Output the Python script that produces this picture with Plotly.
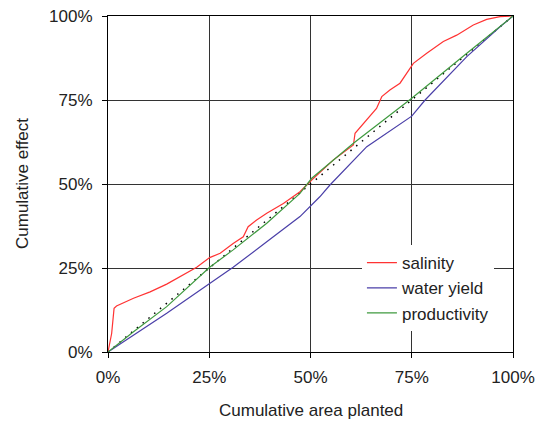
import plotly.graph_objects as go

# cumulative area planted (%) and cumulative effect (%)
sal_x = [0, 0.9, 1.5, 2.1, 6.3, 10.4, 14.5, 18.6, 21.9, 25.1, 27.7, 30.9, 33.4, 34.6,
         36.7, 39.2, 43.3, 47.4, 50.3, 55.6, 60.6, 61.0, 63.9, 66.3, 67.6, 69.6, 72.1,
         73.8, 75.4, 78.7, 82.8, 86.1, 90.2, 93.5, 96.8, 100]
sal_y = [0, 5.5, 13.0, 13.7, 16.0, 17.9, 20.2, 22.9, 25.2, 28.1, 29.4, 32.3, 34.3, 37.3,
         39.3, 41.3, 44.2, 47.7, 51.2, 57.1, 61.6, 65.1, 69.0, 72.5, 76.0, 78.0, 80.0,
         82.9, 85.9, 88.9, 92.4, 94.3, 97.3, 99.0, 99.8, 100]

wat_x = [0, 6.3, 14.5, 25.1, 30.9, 39.2, 47.4, 52.3, 54.8, 63.9, 75.0, 78.3, 88.6, 96.8, 100]
wat_y = [0, 5.1, 11.5, 20.4, 25.2, 32.8, 40.3, 46.2, 49.7, 61.1, 70.2, 75.0, 87.9, 96.8, 100]

pro_x = [0, 6.3, 14.5, 25.1, 30.9, 39.2, 47.4, 50.3, 60.6, 75.0, 88.6, 100]
pro_y = [0, 6.0, 13.5, 25.2, 30.4, 38.3, 47.2, 51.7, 62.1, 75.5, 88.9, 100]

diag_x = [0, 100]
diag_y = [0, 100]

tick_vals = [0, 25, 50, 75, 100]
tick_text = ["0%", "25%", "50%", "75%", "100%"]

FONT = "Liberation Sans, Arial, sans-serif"
TXT = "#222222"
FS = 17

fig = go.Figure()
fig.add_trace(go.Scatter(x=diag_x, y=diag_y, mode="lines", showlegend=False,
                         line=dict(color="black", width=1.5, dash="1.5px,6px")))
fig.add_trace(go.Scatter(x=sal_x, y=sal_y, mode="lines", name="salinity",
                         line=dict(color="#ff3333", width=1.2)))
fig.add_trace(go.Scatter(x=wat_x, y=wat_y, mode="lines", name="water yield",
                         line=dict(color="#4a3fa8", width=1.2)))
fig.add_trace(go.Scatter(x=pro_x, y=pro_y, mode="lines", name="productivity",
                         line=dict(color="#3f9a3f", width=1.2)))

axis_common = dict(
    range=[0, 100], tickvals=tick_vals, ticktext=tick_text,
    showgrid=True, gridcolor="#333333", gridwidth=1,
    showline=True, linecolor="black", linewidth=1, mirror=True,
    ticks="outside", ticklen=5, tickcolor="black", automargin=False,
    zeroline=False, tickfont=dict(family=FONT, size=FS, color=TXT),
)

fig.update_layout(
    width=537, height=435,
    margin=dict(l=108, r=24, t=16, b=83),
    paper_bgcolor="white", plot_bgcolor="white",
    xaxis=dict(**axis_common, ticklabelstandoff=5),
    yaxis=dict(**axis_common, ticklabelstandoff=6),
    legend=dict(x=0.627, y=0.318, xanchor="left", yanchor="top",
                bgcolor="white", borderwidth=0,
                font=dict(family=FONT, size=FS, color=TXT),
                tracegroupgap=0, itemwidth=30),
    font=dict(family=FONT),
    annotations=[
        dict(text="Cumulative area planted", xref="paper", yref="paper",
             x=0.5, y=-58 / 336, xanchor="center", yanchor="middle",
             showarrow=False, font=dict(family=FONT, size=FS, color=TXT)),
        dict(text="Cumulative effect", xref="paper", yref="paper",
             x=-86 / 405, y=0.5, xanchor="center", yanchor="middle", textangle=-90,
             showarrow=False, font=dict(family=FONT, size=FS, color=TXT)),
    ],
)

fig.write_html("out.html", config={"displayModeBar": False},
               post_script="document.body.style.margin='0';")
